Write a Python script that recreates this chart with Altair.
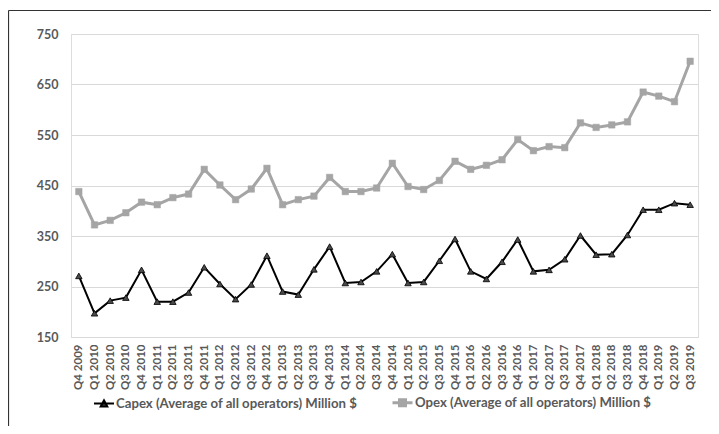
import altair as alt
import pandas as pd

quarters = ["Q4 2009",
            "Q1 2010", "Q2 2010", "Q3 2010", "Q4 2010",
            "Q1 2011", "Q2 2011", "Q3 2011", "Q4 2011",
            "Q1 2012", "Q2 2012", "Q3 2012", "Q4 2012",
            "Q1 2013", "Q2 2013", "Q3 2013", "Q4 2013",
            "Q1 2014", "Q2 2014", "Q3 2014", "Q4 2014",
            "Q1 2015", "Q2 2015", "Q3 2015", "Q4 2015",
            "Q1 2016", "Q2 2016", "Q3 2016", "Q4 2016",
            "Q1 2017", "Q2 2017", "Q3 2017", "Q4 2017",
            "Q1 2018", "Q2 2018", "Q3 2018", "Q4 2018",
            "Q1 2019", "Q2 2019", "Q3 2019"]

capex = [271,
         197, 222, 228, 283,
         220, 220, 238, 288,
         255, 225, 254, 311,
         240, 234, 284, 329,
         257, 259, 280, 314,
         257, 259, 301, 344,
         280, 265, 299, 343,
         280, 283, 304, 351,
         313, 314, 352, 402,
         402, 415, 412]

opex = [438,
        372, 381, 396, 417,
        412, 426, 433, 482,
        451, 422, 443, 484,
        412, 422, 429, 466,
        438, 438, 445, 494,
        448, 442, 460, 498,
        482, 490, 501, 541,
        519, 527, 525, 574,
        565, 570, 576, 635,
        627, 616, 696]

series_names = ["Capex (Average of all operators) Million $",
                "Opex (Average of all operators) Million $"]
y_ticks = [150, 250, 350, 450, 550, 650, 750]

rows = []
for q, c, o in zip(quarters, capex, opex):
    rows.append({"quarter": q, "series": series_names[0], "value": c})
    rows.append({"quarter": q, "series": series_names[1], "value": o})
df = pd.DataFrame(rows)

FONT = "Lato"
TXT = "#595959"
GRID = "#D9D9D9"

W, H = 627, 303

x_enc = alt.X("quarter:N", sort=quarters, title=None,
              axis=alt.Axis(labelAngle=-90, ticks=False, domainColor=GRID,
                            labelColor=TXT, labelFontSize=11.5, labelFont=FONT,
                            labelFontWeight="bold",
                            labelPadding=7, grid=False))
y_enc = alt.Y("value:Q", title=None,
              scale=alt.Scale(domain=[150, 750], nice=False, zero=False),
              axis=alt.Axis(values=y_ticks, ticks=False, domain=False,
                            gridColor=GRID, labelColor=TXT, labelFontSize=12.5,
                            labelFont=FONT, labelFontWeight="bold", labelPadding=13))

stroke_scale = alt.Scale(domain=series_names, range=["#000000", "#A5A5A5"])
sw_scale = alt.Scale(domain=series_names, range=[2, 3])

base = alt.Chart(df)

lines = base.mark_line().encode(
    x=x_enc, y=y_enc,
    stroke=alt.Stroke("series:N", scale=stroke_scale, title=None),
    strokeWidth=alt.StrokeWidth("series:N", scale=sw_scale, title=None),
)

cap_pts = base.transform_filter(
    alt.datum.series == series_names[0]
).mark_point(shape="triangle-up", filled=True, size=42, fill="#4a4a4a",
             stroke="#000000", strokeWidth=0.8, opacity=1).encode(x=x_enc, y=y_enc)

op_pts = base.transform_filter(
    alt.datum.series == series_names[1]
).mark_point(shape="square", filled=True, size=42, fill="#A5A5A5",
             stroke="#A5A5A5", strokeWidth=0.5, opacity=1).encode(x=x_enc, y=y_enc)

legend_paths = ["M-1,0H1M-0.33,0.28L0,-0.33L0.33,0.28Z",
                "M-1,0H1M-0.3,-0.3H0.3V0.3H-0.3Z"]

legend_props = dict(orient="none", legendX=22, legendY=357,
                    direction="horizontal", symbolSize=400,
                    labelFont=FONT, labelFontSize=13.2, labelFontWeight="bold",
                    labelColor=TXT, labelOffset=1,
                    columnPadding=28, labelLimit=400, symbolOpacity=1)

legend_layer = base.transform_filter("false").mark_point(opacity=1, filled=False).encode(
    x=x_enc, y=y_enc,
    shape=alt.Shape("series:N", scale=alt.Scale(domain=series_names, range=legend_paths),
                    title=None, legend=alt.Legend(**legend_props)),
    fill=alt.Fill("series:N", scale=alt.Scale(domain=series_names,
                                              range=["#4a4a4a", "#A5A5A5"]),
                  title=None, legend=alt.Legend(**legend_props)),
    stroke=alt.Stroke("series:N", scale=stroke_scale, title=None,
                      legend=alt.Legend(**legend_props)),
    strokeWidth=alt.StrokeWidth("series:N", scale=sw_scale, title=None,
                                legend=alt.Legend(**legend_props)),
)

border_data = alt.Data(values=[{"k": 0}])
border_v = alt.Chart(border_data).mark_rule(color="#333333", strokeWidth=1.2).encode(
    x=alt.value(-62.5), y=alt.value(-23.5), y2=alt.value(H + 89))
border_h = alt.Chart(border_data).mark_rule(color="#333333", strokeWidth=1.2).encode(
    x=alt.value(-62.5), x2=alt.value(W + 13), y=alt.value(-23.5))

chart = alt.layer(lines, op_pts, cap_pts, legend_layer, border_v, border_h).properties(
    width=W, height=H,
    autosize=alt.AutoSizeParams(type="none"),
    padding={"left": 63, "top": 26, "right": 13, "bottom": 89},
).configure_view(stroke=None).configure(background="white")

chart.save("out.html", embed_options={"renderer": "svg", "actions": False})
